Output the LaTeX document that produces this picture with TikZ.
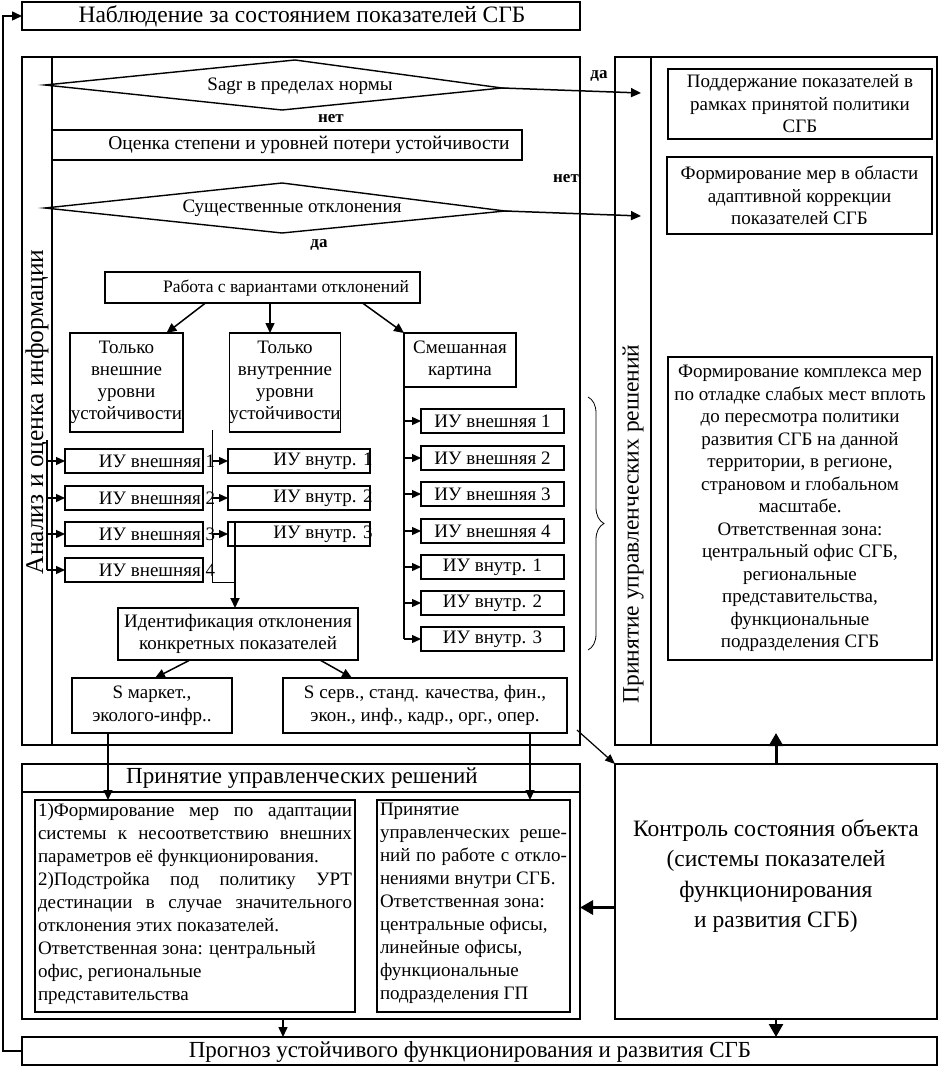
\documentclass[tikz,border=0pt]{standalone}
\usepackage{fontspec}
\setmainfont{Liberation Serif}
\usetikzlibrary{arrows.meta,decorations.pathreplacing,calc}
\begin{document}
\begin{tikzpicture}[x=1pt,y=-1pt,
  every node/.style={inner sep=0pt, outer sep=0pt},
  fb/.style={font=\fontsize{19}{22.5}\selectfont},
  fs/.style={font=\fontsize{17.5}{20}\selectfont},
  ft/.style={font=\fontsize{23}{30}\selectfont},
  fl/.style={font=\bfseries\fontsize{17}{19}\selectfont},
  box/.style={draw, line width=1.7pt, align=center},
  pbox/.style={draw, line width=1.3pt},
  tbox/.style={draw, line width=2.2pt},
  ln/.style={line width=1.4pt},
  thinln/.style={line width=0.8pt},
  arr/.style={line width=1.5pt, -{Triangle[length=10pt,width=9pt]}},
  sarr/.style={line width=1.3pt, -{Triangle[length=9pt,width=8pt]}},
  tarr/.style={line width=3pt, -{Triangle[length=13pt,width=14pt]}},
]
\useasboundingbox (0,0) rectangle (939,1067);

% ---- top box
\node[box, minimum width=558pt, minimum height=28pt] (obs) at (301,16) {};
\node[font=\fontsize{23.5}{28}\selectfont] (obst) at (302,16) {Наблюдение за состоянием показателей СГБ};

% ---- left panel
\node[pbox, minimum width=558pt, minimum height=688pt] (lpanel) at (301,401) {};
\draw[ln] ([xshift=30pt]lpanel.north west) -- ([xshift=30pt]lpanel.south west);
\node[rotate=90, font=\fontsize{25.5}{30}\selectfont] (lplab) at (37,412) {Анализ и оценка информации};

% ---- right panel
\node[pbox, minimum width=322pt, minimum height=688pt] (rpanel) at (776,401) {};
\draw[ln] ([xshift=36pt]rpanel.north west) -- ([xshift=36pt]rpanel.south west);
\node[rotate=90, font=\fontsize{23.5}{28}\selectfont] (rplab) at (633,524) {Принятие управленческих решений};

% ---- diamond 1
\coordinate (d1t) at (295,60);
\coordinate (d1l) at (45,85);
\coordinate (d1r) at (502,88);
\coordinate (d1b) at (282,110);
\draw[ln] (d1t) -- (d1r) -- (d1b) -- (d1l) -- cycle;
\node[font=\fontsize{19}{20}\selectfont] (d1x) at (300,86) {Sagr в пределах нормы};
\coordinate (yes1) at (641,93);
\draw[arr] (d1r) -- (yes1);
\node[fl] (l1) at (599,76) {да};
\node[fl] (l2) at (331,119) {нет};

% ---- ocenka
\node[box, minimum width=470pt, minimum height=30pt] (ocenka) at (287,145) {};
\node[font=\fontsize{19.5}{21}\selectfont] (ocenkat) at (309,145) {Оценка степени и уровней потери устойчивости};

% ---- diamond 2
\coordinate (d2t) at (282,183);
\coordinate (d2l) at (45,208);
\coordinate (d2r) at (505,211);
\coordinate (d2b) at (282,233);
\draw[ln] (d2t) -- (d2r) -- (d2b) -- (d2l) -- cycle;
\node[font=\fontsize{19}{20}\selectfont] (d2x) at (292,208) {Существенные отклонения};
\coordinate (no2) at (641,216);
\draw[arr] (d2r) -- (no2);
\node[fl] (l3) at (566,179) {нет};
\node[fl] (l4) at (319,245) {да};

% ---- rabota
\node[box, minimum width=315pt, minimum height=31pt] (rabota) at (262.5,287.5) {};
\node[fs] (rabotat) at (286,288) {Работа с вариантами отклонений};

% ---- three variants
\node[box, minimum width=113pt, minimum height=99pt, font=\fontsize{19}{22}\selectfont] (tv) at (126.5,382.5) {Только\\внешние\\уровни\\устойчивости};
\node[box, minimum width=110pt, minimum height=99pt, font=\fontsize{19}{22}\selectfont] (tvn) at (285,382.5) {Только\\внутренние\\уровни\\устойчивости};
\node[box, fb, minimum width=112pt, minimum height=54pt] (sm) at (460,360) {Смешанная\\картина};

% ---- left column IU
\foreach \k/\y in {1/461,2/498,3/534,4/570}{
  \node[box, minimum width=138pt, minimum height=24pt] (ext\k) at (134,\y) {};
  \node[fb] (ext\k t) at (157,\y) {ИУ внешняя \k};
}
% ---- middle column IU
\foreach \k/\y in {1/461,2/498,3/534}{
  \node[box, minimum width=142pt, minimum height=24pt] (int\k) at (299,\y) {};
  \node[fb] (int\k t) at (323,\y) {ИУ внутр. \k};
}
% ---- mixed column IU
\foreach \k/\y/\t in {1/421/ИУ внешняя 1,2/458/ИУ внешняя 2,3/494/ИУ внешняя 3,4/531/ИУ внешняя 4,5/567/ИУ внутр. 1,6/603/ИУ внутр. 2,7/639/ИУ внутр. 3}{
  \node[box, fb, minimum width=143pt, minimum height=24pt] (mix\k) at (492.5,\y) {\t};
}

% ---- arrows from rabota
\draw[arr] ([xshift=-57pt]rabota.south) -- ([xshift=40pt]tv.north);
\draw[arr] ([xshift=7.5pt]rabota.south) -- ([xshift=7.5pt]rabota.south |- tvn.north);
\draw[arr] ([xshift=100pt]rabota.south) -- (sm.north west);

% ---- mixed feeder
\draw[ln] (sm.south west) -- (sm.south west |- mix7.west);
\foreach \k in {1,...,7}{
  \draw[sarr] (sm.south west |- mix\k.west) -- (mix\k.west);
}
\draw[thinln, decorate, decoration={brace, amplitude=16pt}] (588,397) -- (588,650);

% ---- left feeder
\coordinate (fl1) at (47,440);
\draw[ln] (fl1) -- (fl1 |- ext4.west);
\foreach \k in {1,...,4}{
  \draw[sarr] (fl1 |- ext\k.west) -- (ext\k.west);
}

% ---- middle feeder
\coordinate (fm1) at (212,430);
\coordinate (fm2) at (212,582);
\draw[thinln] (fm1) -- (fm2);
\foreach \k in {1,...,3}{
  \draw[sarr] (fm1 |- int\k.west) -- (int\k.west);
}
\coordinate (mj) at (235,522);
\draw[thinln] (fm2) -- (fm2 -| mj);

% ---- identification
\node[box, fb, minimum width=240pt, minimum height=52pt] (ident) at (238,634) {Идентификация отклонения\\конкретных показателей};
\draw[line width=2pt, -{Triangle[length=10pt,width=9pt]}] (mj) -- (mj |- ident.north);

\node[box, fb, minimum width=160pt, minimum height=55pt] (smk) at (152,705.5) {S маркет.,\\эколого-инфр..};
\node[box, fb, minimum width=284pt, minimum height=55pt] (ssv) at (425,705.5) {S серв., станд. качества, фин.,\\экон., инф., кадр., орг., опер.};
\draw[arr] ([xshift=-48pt]ident.south) -- ([xshift=3pt]smk.north);
\draw[arr] ([xshift=82pt]ident.south) -- ([xshift=-73pt]ssv.north);

% ---- right boxes
\node[tbox, fb, align=center, minimum width=264pt, minimum height=70pt] (r1) at (800,104) {Поддержание показателей в\\рамках принятой политики\\СГБ};
\node[tbox, fb, align=center, minimum width=265pt, minimum height=77pt] (r2) at (799.5,195.5) {Формирование мер в области\\адаптивной коррекции\\показателей  СГБ};
\node[tbox, fb, align=center, minimum width=264pt, minimum height=303pt] (r3) at (800,508.5) {Формирование комплекса мер\\по отладке слабых мест вплоть\\до пересмотра политики\\развития СГБ на данной\\территории, в регионе,\\страновом и глобальном\\масштабе.\\Ответственная зона:\\центральный офис СГБ,\\региональные\\представительства,\\функциональные\\подразделения СГБ};

% ---- bottom panel
\node[pbox, minimum width=558pt, minimum height=255pt] (bpanel) at (301,891.5) {};
\draw[ln] ([yshift=-28pt]bpanel.north west) -- ([yshift=-28pt]bpanel.north east);
\node[ft] (bplab) at (302,778) {Принятие управленческих решений};
\node[tbox, minimum width=320pt, minimum height=212pt] (b1) at (195,906) {};
\node[tbox, minimum width=193pt, minimum height=212pt] (b2) at (473.5,906) {};
\node[anchor=north west, align=left, font=\fontsize{19}{23}\selectfont] (b1t) at (38,803) {%
\makebox[314pt][s]{1)Формирование мер по адаптации}\\
\makebox[314pt][s]{системы к несоответствию внешних}\\
параметров её функционирования.\\
\makebox[314pt][s]{2)Подстройка под политику УРТ}\\
\makebox[314pt][s]{дестинации в случае значительного}\\
отклонения этих показателей.\\
Ответственная зона: центральный\\
офис, региональные\\
представительства};
\node[anchor=north west, align=left, font=\fontsize{19}{23}\selectfont] (b2t) at (380,803) {%
Принятие\\
\makebox[187pt][s]{управленческих реше-}\\
\makebox[187pt][s]{ний по работе с откло-}\\
нениями внутри СГБ.\\
Ответственная зона:\\
центральные офисы,\\
линейные офисы,\\
функциональные\\
подразделения ГП};

\draw[arr] ([xshift=-44pt]smk.south) -- ([xshift=-44pt]smk.south |- b1.north);
\draw[arr] ([xshift=105pt]ssv.south) -- ([xshift=105pt]ssv.south |- b2.north);

% ---- control
\node[pbox, minimum width=322pt, minimum height=255pt] (ctrl) at (776,891.5) {};
\node[align=center, font=\fontsize{23.5}{30.5}\selectfont] (ctrlt) at (776,876) {Контроль состояния объекта\\(системы показателей\\функционирования\\и развития СГБ)};
\coordinate (dg) at (577,730);
\draw[line width=1.2pt, -{Triangle[length=10pt,width=8pt]}] (dg) -- (ctrl.north west);
\draw[tarr] (ctrl.north) -- ([yshift=12pt]rpanel.south);
\draw[tarr] ([yshift=-16pt]ctrl.west) -- ([yshift=-16pt]bpanel.east);

% ---- forecast
\node[box, minimum width=915pt, minimum height=28pt] (prog) at (479.5,1051) {};
\node[font=\fontsize{23}{28}\selectfont] (progt) at (470,1052) {Прогноз устойчивого функционирования и развития СГБ};
\draw[arr] ([xshift=-18pt]bpanel.south) -- ([xshift=-18pt]bpanel.south |- prog.north);
\draw[tarr, line width=2.5pt] (ctrl.south) -- (ctrl.south |- prog.north);
\draw[arr] (prog.west) -- ++(-19pt,0) |- (obs.west);

\end{tikzpicture}
\end{document}
